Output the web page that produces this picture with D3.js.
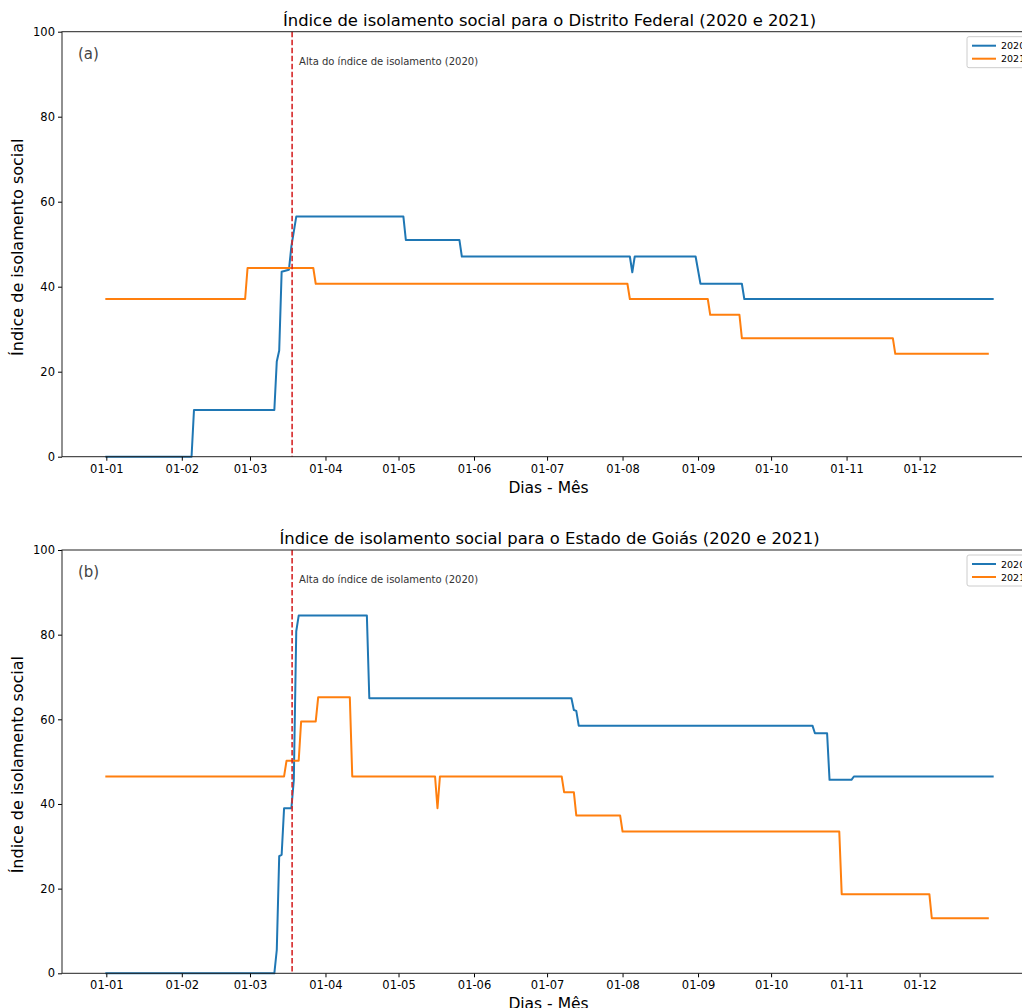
<!DOCTYPE html>
<html>
<head>
<meta charset="utf-8">
<script src="https://cdn.jsdelivr.net/npm/d3@7"></script>
<style>
  html, body { margin: 0; padding: 0; background: #fff; }
  svg { display: block; font-family: "DejaVu Sans", sans-serif; }
</style>
</head>
<body>
<svg id="chart" width="1022" height="1008"></svg>
<script>
// ---- Data (day of year index, 0 = 01-01) ----
const tickLabels = ["01-01","01-02","01-03","01-04","01-05","01-06","01-07","01-08","01-09","01-10","01-11","01-12"];
const tickDays   = [0, 31, 59, 90, 120, 151, 181, 212, 243, 273, 304, 334];
const yTicks     = [0, 20, 40, 60, 80, 100];
const seriesNames = ["2020", "2021"];

// (a) Distrito Federal
const dfDays2020 = [0,35,36,69,70,71,72,75,76,78,122,123,145,146,215,216,217,242,244,261,262,364];
const dfVals2020 = [0,0,11,11,22.4,25,43.5,44,49.5,56.5,56.5,51,51,47.1,47.1,43.4,47.1,47.1,40.7,40.7,37.1,37.1];
const dfDays2021 = [0,57,58,85,86,214,215,247,248,260,261,323,324,362];
const dfVals2021 = [37.1,37.1,44.4,44.4,40.7,40.7,37.1,37.1,33.4,33.4,27.9,27.9,24.2,24.2];

// (b) Goiás
const goDays2020 = [0,69,70,71,72,73,76,77,78,79,107,108,191,192,193,194,290,291,296,297,306,307,364];
const goVals2020 = [0,0,5.5,27.7,28,39,39,45.7,80.8,84.5,84.5,65,65,62.2,62,58.5,58.5,56.7,56.7,45.7,45.7,46.5,46.5];
const goDays2021 = [0,73,74,79,80,86,87,100,101,135,136,137,187,188,192,193,211,212,301,302,338,339,362];
const goVals2021 = [46.5,46.5,50.2,50.2,59.5,59.5,65.2,65.2,46.5,46.5,39,46.5,46.5,42.8,42.8,37.3,37.3,33.5,33.5,18.7,18.7,13,13];

const altaDay = 76.3;
const altaLabel = "Alta do índice de isolamento (2020)";
const titles = [
  "Índice de isolamento social para o Distrito Federal (2020 e 2021)",
  "Índice de isolamento social para o Estado de Goiás (2020 e 2021)"
];
const panelTags = ["(a)", "(b)"];
const xLabel = "Dias - Mês";
const yLabel = "Índice de isolamento social";

// ---- Drawing ----
const svg = d3.select("#chart");
const colors = ["#1f77b4", "#ff7f0e"];
const zip = (d, v) => d.map((x, i) => ({day: x, val: v[i]}));

const panels = [
  {top: 31.7, bottom: 456.7, series: [zip(dfDays2020, dfVals2020), zip(dfDays2021, dfVals2021)]},
  {top: 550, bottom: 973.3, series: [zip(goDays2020, goVals2020), zip(goDays2021, goVals2021)]}
];

const left = 62, right = 1037;
const xMin = -18.2, xMax = 364 + 18.2;
const x = d3.scaleLinear().domain([xMin, xMax]).range([left, right]);

panels.forEach((p, i) => {
  const y = d3.scaleLinear().domain([0, 100]).range([p.bottom, p.top]);
  const g = svg.append("g");

  // lines
  const line = d3.line().x(d => x(d.day)).y(d => y(d.val));
  p.series.forEach((s, k) => {
    g.append("path").datum(s)
      .attr("d", line)
      .attr("fill", "none")
      .attr("stroke", colors[k])
      .attr("stroke-width", 2)
      .attr("stroke-linejoin", "round")
      .attr("stroke-linecap", "square");
  });

  // vertical dashed line
  g.append("line")
    .attr("x1", x(altaDay)).attr("x2", x(altaDay))
    .attr("y1", y(100)).attr("y2", y(0))
    .attr("stroke", "#d62728").attr("stroke-width", 1.6)
    .attr("stroke-dasharray", "5.5,2.5");

  g.append("text")
    .attr("x", x(altaDay) + 7).attr("y", y(100) + 33)
    .attr("font-size", 10).attr("fill", "#333")
    .text(altaLabel);

  // axes
  const xAxis = d3.axisBottom(x).tickValues(tickDays)
    .tickFormat((d, j) => tickLabels[j]).tickSize(4).tickPadding(4);
  const gx = g.append("g").attr("transform", `translate(0,${p.bottom})`).call(xAxis);
  gx.select(".domain").remove();
  gx.selectAll("text").attr("font-size", 11.5).attr("fill", "#000")
    .attr("font-family", "DejaVu Sans");
  gx.selectAll("line").attr("stroke", "#000");

  const yAxis = d3.axisLeft(y).tickValues(yTicks).tickSize(4).tickPadding(3);
  const gy = g.append("g").attr("transform", `translate(${left},0)`).call(yAxis);
  gy.select(".domain").remove();
  gy.selectAll("text").attr("font-size", 11.5).attr("fill", "#000")
    .attr("font-family", "DejaVu Sans");
  gy.selectAll("line").attr("stroke", "#000");

  // frame
  g.append("rect")
    .attr("x", left).attr("y", p.top)
    .attr("width", right - left).attr("height", p.bottom - p.top)
    .attr("fill", "none").attr("stroke", "#222").attr("stroke-width", 1);

  // title
  g.append("text")
    .attr("x", (left + right) / 2).attr("y", p.top - 6)
    .attr("text-anchor", "middle").attr("font-size", 16.4).attr("fill", "#000")
    .text(titles[i]);

  // x label
  g.append("text")
    .attr("x", (left + right) / 2 - 1).attr("y", p.bottom + 36)
    .attr("text-anchor", "middle").attr("font-size", 15.5).attr("fill", "#000")
    .text(xLabel);

  // y label
  g.append("text")
    .attr("transform", `translate(${23},${(p.top + p.bottom) / 2 + 3}) rotate(-90)`)
    .attr("text-anchor", "middle").attr("font-size", 16).attr("fill", "#000")
    .text(yLabel);

  // panel tag
  g.append("text")
    .attr("x", 78).attr("y", p.top + 27)
    .attr("font-size", 15).attr("fill", "#444")
    .text(panelTags[i]);

  // legend
  const lg = g.append("g").attr("transform", `translate(967,${p.top + 5})`);
  lg.append("rect").attr("x", 0).attr("y", 0).attr("width", 66).attr("height", 31)
    .attr("rx", 2).attr("fill", "#fff").attr("stroke", "#ccc").attr("stroke-width", 1);
  seriesNames.forEach((n, k) => {
    lg.append("line").attr("x1", 5).attr("x2", 29)
      .attr("y1", 9 + k * 13).attr("y2", 9 + k * 13)
      .attr("stroke", colors[k]).attr("stroke-width", 2);
    lg.append("text").attr("x", 34).attr("y", 12.5 + k * 13)
      .attr("font-size", 9.5).attr("fill", "#000").text(n);
  });
});
</script>
</body>
</html>
